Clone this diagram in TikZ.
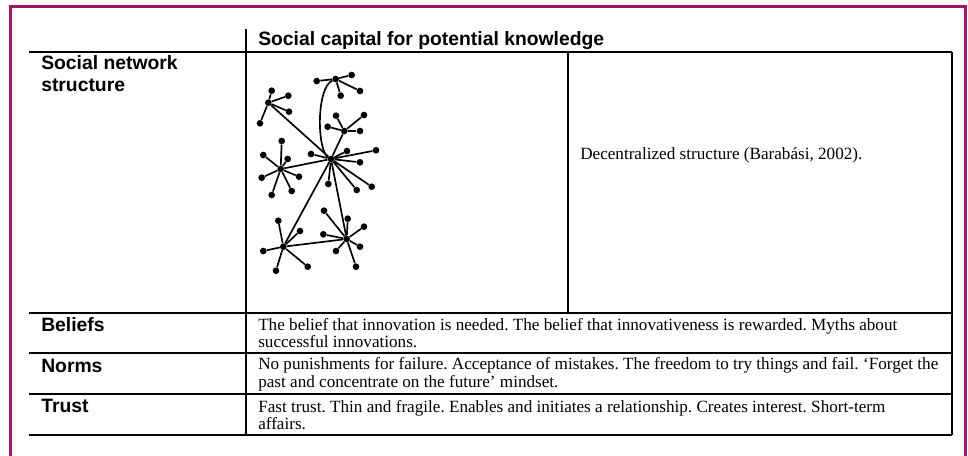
\documentclass[tikz,border=0pt]{standalone}
\usepackage{fontspec}
\setmainfont{Liberation Serif}
\setsansfont{Liberation Sans}
\definecolor{framecol}{RGB}{155,25,100}

\begin{document}
\frenchspacing
\begin{tikzpicture}[x=0.75pt,y=-0.75pt,
        lab/.style={font=\sffamily\bfseries\fontsize{14.5}{16.5}\selectfont, anchor=west, inner sep=0pt, align=left},
        cell/.style={font=\fontsize{12.85}{13.2}\selectfont, anchor=west, inner sep=0pt, align=left},
        rule/.style={line width=1.5pt},
        link/.style={line width=1.25pt},
        dot/.style={fill, circle, inner sep=0pt, minimum size=5pt}]
        \def\tl{29}
        \def\tr{952}
        \def\colA{246}
        \def\colB{568}

        \useasboundingbox (0,0) rectangle (968,455);

        % outer frame
        \draw[framecol, line width=2.25pt] (10,460)--(10,6)--(965,6)--(965,460);

        % table rules
        \draw[rule] (\colA,29)--(\colA,435);
        \draw[rule] (\colB,52)--(\colB,313);
        \draw[rule] (\tr,52)--(\tr,435);
        \foreach \y in {52,313,353,394,435}
            \draw[rule] (\tl,\y)--(\tr,\y);

        % labels
        \node[lab] (head) at (258,41) {Social capital for potential knowledge};
        \node[lab, anchor=north west] (snet) at (41,55) {Social network\\structure};
        \node[lab] (beliefs) at (41,325) {Beliefs};
        \node[lab] (norms) at (41,366) {Norms};
        \node[lab] (trust) at (41,406) {Trust};

        \node[cell] (decent) at (580,155) {Decentralized structure (Barabási, 2002).};
        \node[cell] (beliefstxt) at (258,333) {The belief that innovation is needed. The belief that innovativeness is rewarded. Myths about\\successful innovations.};
        \node[cell] (normstxt) at (258,374) {No punishments for failure. Acceptance of mistakes. The freedom to try things and fail. `Forget the\\past and concentrate on the future' mindset.};
        \node[cell] (trusttxt) at (258,415) {Fast trust. Thin and fragile. Enables and initiates a relationship. Creates interest. Short-term\\affairs.};

        % network
        \node[dot] (hub) at (331,159) {};
        \node[dot] (hA) at (268.3,102.7) {};
        \node[dot] (hB) at (335.7,79) {};
        \node[dot] (hC) at (344.3,131) {};
        \node[dot] (hF) at (280.7,169) {};
        \node[dot] (hD) at (283.3,246.7) {};
        \node[dot] (hE) at (346.7,239) {};

        \foreach \h/\pts in {
            hub/{(311,154),(347,151),(376,150.3),(360,162.3),(328.3,184),(356.7,190),(371.7,186.7)},
            hA/{(271.7,90.7),(288.3,95.7),(289,111.7),(260,123.3)},
            hB/{(316.7,81),(351.7,75),(340.7,95.7),(360,91)},
            hC/{(336,115.7),(364,115),(327.7,126.7),(360,131)},
            hF/{(281.7,141),(263.3,155),(287.7,159),(261.7,177.7),(299,176.7),(271.7,195),(291.7,191)},
            hD/{(278.3,220.7),(300,231),(263.3,251),(276,270.7),(307.7,266.7)},
            hE/{(324,210.7),(347.7,218.7),(364,226.7),(323.3,234.3),(336,251),(360,246.7),(356,266.7)}}
        {
            \foreach \p [count=\i] in \pts {
                \node[dot] (\h-\i) at \p {};
                \draw[link] (\h)--(\h-\i);
            }
        }

        \draw[link] (hA)--(hub);
        \draw[link] (hC)--(hub);
        \draw[link] (hF)--(hub);
        \draw[link] (hD)--(hub);
        \draw[link] (hE)--(hub);
        \draw[link] (hD)--(hE);
        \draw[link] (hB) .. controls (316,88) and (317,150) .. (hub);

    \end{tikzpicture}
\end{document}
